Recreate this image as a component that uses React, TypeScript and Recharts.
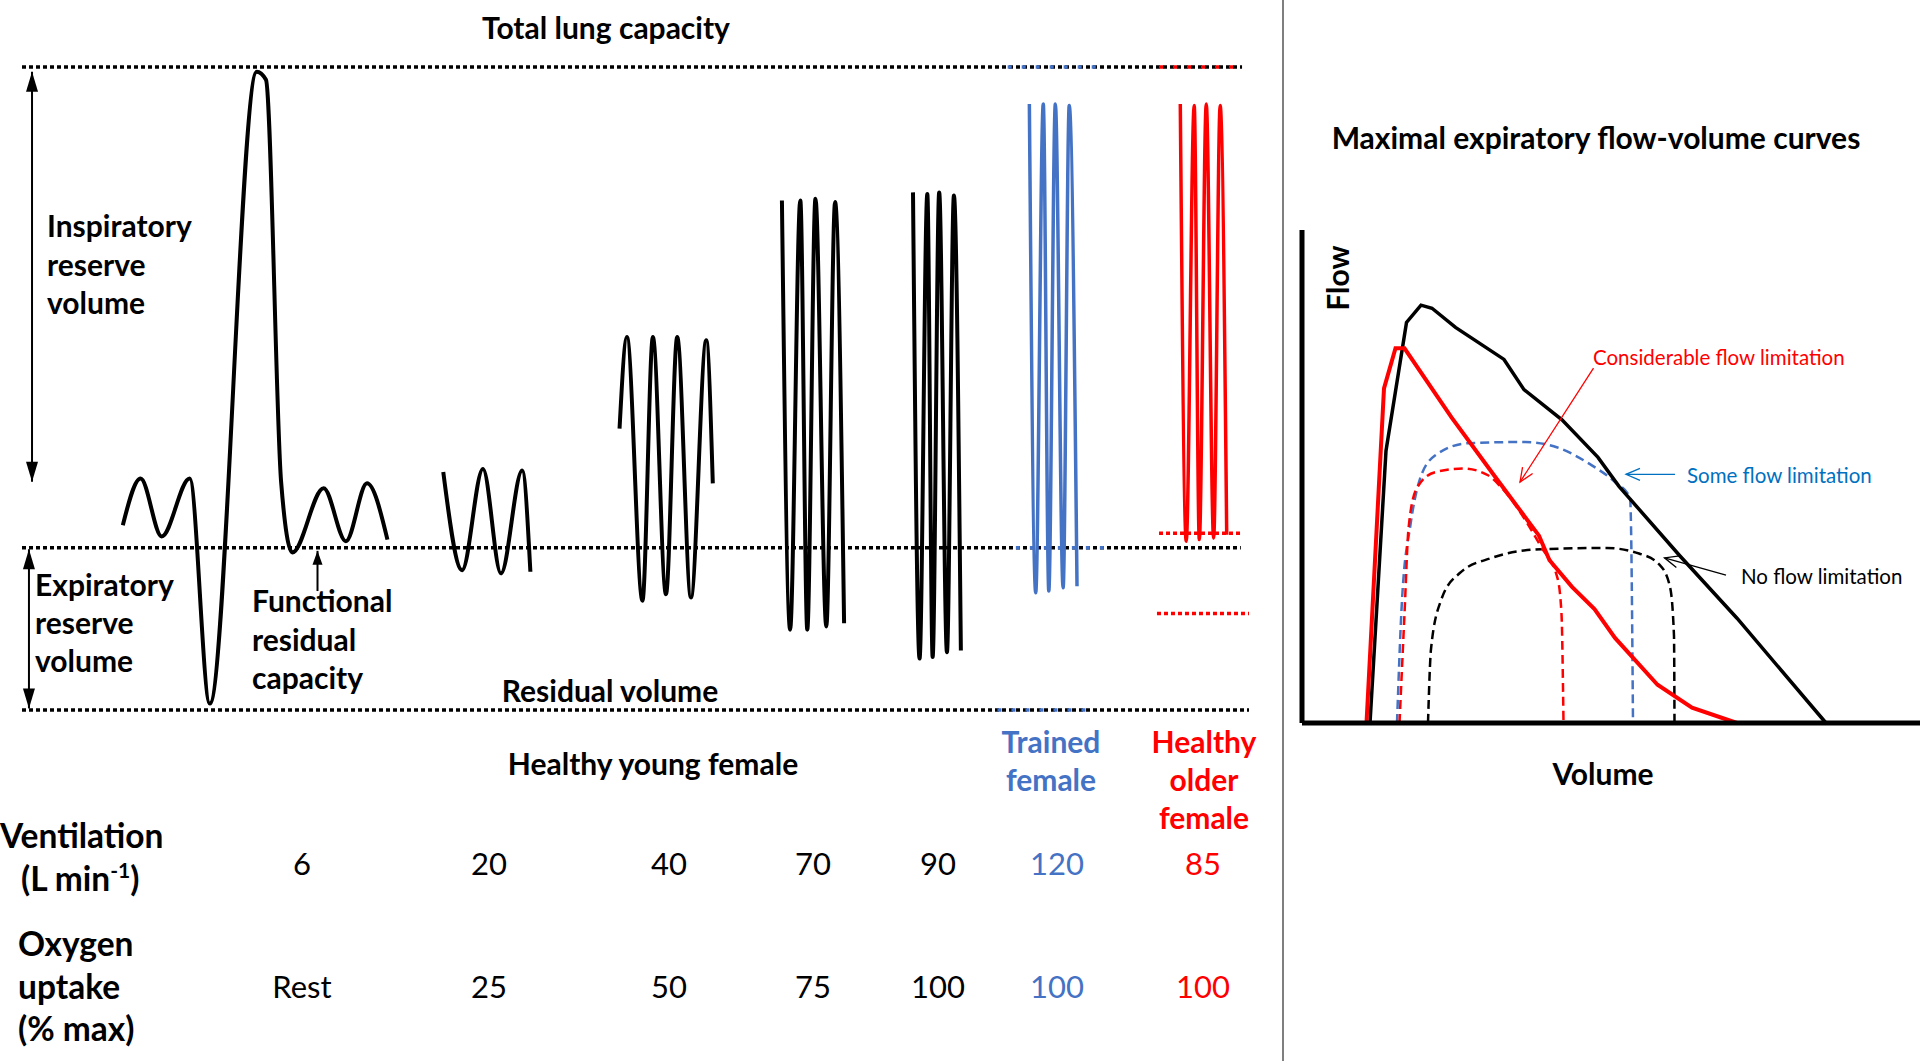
import React from "react";
import { LineChart, Line, XAxis, YAxis, ReferenceLine } from "recharts";

// ---- spirogram (time s, lung volume L) ----
const restBreaths = [
  [4.93, 2.15], [5.8, 2.44], [6.83, 2.08], [8.2, 2.44], [9.18, 1.04], [11.48, 4.97],
  [11.93, 4.92], [12.67, 2.42], [13.22, 1.98], [14.75, 2.38], [15.84, 2.05], [16.87, 2.41], [17.87, 2.06],
];
const breaths20 = [[20.6, 2.48], [21.52, 1.87], [22.54, 2.5], [23.42, 1.85], [24.46, 2.49], [24.86, 1.86]];
const breaths40 = [
  [29.22, 2.75], [29.58, 3.32], [30.34, 1.68], [30.85, 3.32], [31.49, 1.72],
  [32.04, 3.32], [32.71, 1.7], [33.46, 3.3], [33.78, 2.41],
];
const breaths70 = [[37.16, 4.17], [37.56, 1.5], [38.06, 4.17], [38.4, 1.5], [38.8, 4.18], [39.33, 1.52], [39.76, 4.16], [40.2, 1.54]];
const breaths90 = [[43.57, 4.22], [43.89, 1.32], [44.27, 4.21], [44.53, 1.33], [44.85, 4.22], [45.23, 1.36], [45.57, 4.2], [45.91, 1.37]];
const trainedBreaths = [[49.26, 4.77], [49.57, 1.73], [49.94, 4.77], [50.21, 1.74], [50.53, 4.77], [50.91, 1.76], [51.21, 4.76], [51.59, 1.77]];
const olderBreaths = [[56.64, 4.77], [56.93, 2.05], [57.32, 4.76], [57.57, 2.06], [57.91, 4.77], [58.27, 2.07], [58.59, 4.76], [58.91, 2.09]];

const TLC = 5.0;
const FRC = 2.01;
const RV = 1.0;
const olderFRC = 2.1;
const olderRV = 1.6;

// table under the spirogram
const ventilation = ["6", "20", "40", "70", "90", "120", "85"];
const oxygenUptake = ["Rest", "25", "50", "75", "100", "100", "100"];

// ---- flow-volume curves (volume L, flow L/s) ----
const maximalCurve = [
  [0.68, 0], [0.84, 4.42], [1.045, 6.5], [1.19, 6.78], [1.3, 6.73], [1.535, 6.42], [2.02, 5.9],
  [2.22, 5.41], [2.6, 4.92], [2.96, 4.31], [3.17, 3.84], [3.78, 2.71], [4.35, 1.7], [5.24, 0],
];
const olderMaximal = [
  [0.645, 0], [0.82, 5.43], [0.935, 6.08], [1.025, 6.08], [1.495, 4.96], [1.92, 4.02], [2.37, 3.04],
  [2.475, 2.64], [2.7, 2.21], [2.925, 1.85], [3.13, 1.38], [3.555, 0.62], [3.9, 0.25], [4.35, 0],
];
const trainedTidal = [
  [0.95, 0], [1.0, 1.99], [1.085, 3.22], [1.17, 3.91], [1.33, 4.34], [1.66, 4.54], [2.23, 4.56],
  [2.555, 4.47], [2.88, 4.2], [3.13, 3.91], [3.28, 3.66], [3.29, 3.22], [3.31, 0],
];
const olderTidal = [
  [0.975, 0], [1.025, 1.77], [1.065, 3.15], [1.145, 3.8], [1.33, 4.07], [1.615, 4.13], [1.86, 4.02],
  [2.005, 3.8], [2.39, 2.86], [2.555, 2.35], [2.595, 1.77], [2.615, 0],
];
const youngTidal = [
  [1.26, 0], [1.29, 1.2], [1.39, 1.99], [1.575, 2.43], [1.9, 2.68], [2.39, 2.82], [3.045, 2.84],
  [3.37, 2.75], [3.575, 2.57], [3.68, 2.21], [3.72, 1.41], [3.725, 0],
];

const spiro = (a: number[][]) => a.map(([t, v]) => ({ t, v }));
const fv = (a: number[][]) => a.map(([vol, flow]) => ({ vol, flow }));

const FONT = "Lato, 'Open Sans', 'DejaVu Sans', sans-serif";
const BLUE = "#4472C4";
const RED = "#FF0000";
const DOT = "4 3";

const colX = [302, 489, 669, 813, 938, 1057, 1203];
const colColor = ["#000", "#000", "#000", "#000", "#000", BLUE, RED];

const arrow = (o: { start?: boolean; end?: boolean; open?: boolean; len: number; half: number; w: number; color: string }) =>
  (p: any) => {
    const { x1, y1, x2, y2 } = p;
    const head = (tx: number, ty: number, fx: number, fy: number) => {
      const dx = tx - fx, dy = ty - fy;
      const d = Math.hypot(dx, dy) || 1;
      const ux = dx / d, uy = dy / d;
      const bx = tx - ux * o.len, by = ty - uy * o.len;
      const pts = `${bx - uy * o.half},${by + ux * o.half} ${tx},${ty} ${bx + uy * o.half},${by - ux * o.half}`;
      return o.open
        ? <polyline points={pts} fill="none" stroke={o.color} strokeWidth={o.w} />
        : <polygon points={pts} fill={o.color} />;
    };
    return (
      <g>
        <line x1={x1} y1={y1} x2={x2} y2={y2} stroke={o.color} strokeWidth={o.w} />
        {o.start && head(x1, y1, x2, y2)}
        {o.end && head(x2, y2, x1, y1)}
      </g>
    );
  };

const bold = { fontFamily: FONT, fontWeight: 700, fontSize: 30 };
const rowHead = { fontFamily: FONT, fontWeight: 700, fontSize: 33.5 };
const reg = { fontFamily: FONT, fontWeight: 400, fontSize: 31 };
const note = { fontFamily: FONT, fontWeight: 400, fontSize: 20.5 };

export default function App() {
  const hline = (y: number, x0: number, x1: number, color: string, dash = DOT) => (
    <ReferenceLine segment={[{ x: x0, y }, { x: x1, y }]} stroke={color} strokeWidth={3.5} strokeDasharray={dash} />
  );

  return (
    <div style={{ position: "absolute", left: 0, top: 0, width: 1920, height: 1061, background: "#fff" }}>
      <div style={{ position: "absolute", left: 0, top: 0 }}>
        <LineChart width={1283} height={1061} margin={{ top: 67, right: 34, bottom: 351, left: 22 }}>
          <XAxis type="number" dataKey="t" domain={[0, 60]} hide />
          <YAxis type="number" dataKey="v" domain={[1, 5]} hide />

          {hline(TLC, 0, 59.66, "#000")}
          {hline(FRC, 0, 59.6, "#000")}
          {hline(RV, 0, 60, "#000")}
          {hline(TLC, 48.2, 52.9, BLUE, "4 10")}
          {hline(FRC, 48.6, 53.2, BLUE, "4 10")}
          {hline(RV, 47.7, 52.1, BLUE, "4 10")}
          {hline(TLC, 55.6, 59.66, RED, "4 10")}
          {hline(olderFRC, 55.6, 59.66, RED)}
          {hline(olderRV, 55.5, 60, RED)}

          <ReferenceLine
            segment={[{ x: 0.49, y: 4.97 }, { x: 0.49, y: 2.42 }]}
            shape={arrow({ start: true, end: true, len: 20, half: 6, w: 2, color: "#000" })}
          />
          <ReferenceLine
            segment={[{ x: 0.34, y: 2.0 }, { x: 0.34, y: 1.01 }]}
            shape={arrow({ start: true, end: true, len: 20, half: 6, w: 2, color: "#000" })}
          />
          <ReferenceLine
            segment={[{ x: 14.45, y: 1.74 }, { x: 14.45, y: 1.99 }]}
            shape={arrow({ end: true, len: 14, half: 5, w: 2, color: "#000" })}
          />

          <Line data={spiro(restBreaths)} dataKey="v" type="monotone" stroke="#000" strokeWidth={4} dot={false} isAnimationActive={false} />
          <Line data={spiro(breaths20)} dataKey="v" type="monotone" stroke="#000" strokeWidth={4} dot={false} isAnimationActive={false} />
          <Line data={spiro(breaths40)} dataKey="v" type="monotone" stroke="#000" strokeWidth={4} dot={false} isAnimationActive={false} />
          <Line data={spiro(breaths70)} dataKey="v" type="monotone" stroke="#000" strokeWidth={4} dot={false} isAnimationActive={false} />
          <Line data={spiro(breaths90)} dataKey="v" type="monotone" stroke="#000" strokeWidth={4} dot={false} isAnimationActive={false} />
          <Line data={spiro(trainedBreaths)} dataKey="v" type="monotone" stroke={BLUE} strokeWidth={3.5} dot={false} isAnimationActive={false} />
          <Line data={spiro(olderBreaths)} dataKey="v" type="monotone" stroke={RED} strokeWidth={3.5} dot={false} isAnimationActive={false} />
        </LineChart>
      </div>

      <div style={{ position: "absolute", left: 1283, top: 0 }}>
        <LineChart width={637} height={1061} margin={{ top: 230, right: 0, bottom: 308, left: 0 }}>
          <XAxis type="number" dataKey="vol" domain={[0, 6.18]} tick={false} tickLine={false} height={30}
            axisLine={{ stroke: "#000", strokeWidth: 5 }} />
          <YAxis type="number" dataKey="flow" domain={[0, 8]} tick={false} tickLine={false} width={19}
            axisLine={{ stroke: "#000", strokeWidth: 5 }} />

          <Line data={fv(youngTidal)} dataKey="flow" type="monotone" stroke="#000" strokeWidth={2.5} strokeDasharray="9 5" dot={false} isAnimationActive={false} />
          <Line data={fv(trainedTidal)} dataKey="flow" type="monotone" stroke={BLUE} strokeWidth={2.5} strokeDasharray="9 5" dot={false} isAnimationActive={false} />
          <Line data={fv(olderTidal)} dataKey="flow" type="monotone" stroke={RED} strokeWidth={2.5} strokeDasharray="9 5" dot={false} isAnimationActive={false} />
          <Line data={fv(maximalCurve)} dataKey="flow" type="linear" stroke="#000" strokeWidth={3.5} dot={false} isAnimationActive={false} />
          <Line data={fv(olderMaximal)} dataKey="flow" type="linear" stroke={RED} strokeWidth={4} dot={false} isAnimationActive={false} />

          <ReferenceLine segment={[{ x: 2.915, y: 5.76 }, { x: 2.18, y: 3.91 }]}
            shape={arrow({ end: true, open: true, len: 14, half: 6, w: 1.3, color: RED })} />
          <ReferenceLine segment={[{ x: 3.73, y: 4.035 }, { x: 3.24, y: 4.035 }]}
            shape={arrow({ end: true, open: true, len: 14, half: 6, w: 1.3, color: "#0070C0" })} />
          <ReferenceLine segment={[{ x: 4.24, y: 2.4 }, { x: 3.625, y: 2.68 }]}
            shape={arrow({ end: true, open: true, len: 14, half: 6, w: 1.3, color: "#000" })} />
        </LineChart>
      </div>

      <svg width={1920} height={1061} style={{ position: "absolute", left: 0, top: 0, pointerEvents: "none" }}>
        <line x1={1283} y1={0} x2={1283} y2={1061} stroke="#7f7f7f" strokeWidth={2} />

        <text x={606} y={39} textAnchor="middle" {...bold}>Total lung capacity</text>
        <text x={47} y={237} {...bold}>Inspiratory</text>
        <text x={47} y={276} {...bold}>reserve</text>
        <text x={47} y={314} {...bold}>volume</text>
        <text x={35} y={596} {...bold}>Expiratory</text>
        <text x={35} y={634} {...bold}>reserve</text>
        <text x={35} y={672} {...bold}>volume</text>
        <text x={252} y={612} {...bold}>Functional</text>
        <text x={252} y={651} {...bold}>residual</text>
        <text x={252} y={689} {...bold}>capacity</text>
        <text x={610} y={702} textAnchor="middle" {...bold}>Residual volume</text>
        <text x={653} y={775} textAnchor="middle" {...bold}>Healthy young female</text>
        <text x={1051} y={753} textAnchor="middle" {...bold} fill={BLUE}>Trained</text>
        <text x={1051} y={791} textAnchor="middle" {...bold} fill={BLUE}>female</text>
        <text x={1204} y={753} textAnchor="middle" {...bold} fill={RED}>Healthy</text>
        <text x={1204} y={791} textAnchor="middle" {...bold} fill={RED}>older</text>
        <text x={1204} y={829} textAnchor="middle" {...bold} fill={RED}>female</text>

        <text x={0} y={848} {...rowHead}>Ventilation</text>
        <text x={21} y={891} {...rowHead}>
          <tspan>(L min</tspan>
          <tspan dy={-13} fontSize={21}>-1</tspan>
          <tspan dy={13}>)</tspan>
        </text>
        <text x={18} y={956} {...rowHead}>Oxygen</text>
        <text x={18} y={999} {...rowHead}>uptake</text>
        <text x={18} y={1041} {...rowHead}>(% max)</text>

        {ventilation.map((s, i) => (
          <text key={"v" + i} x={colX[i]} y={875} textAnchor="middle" {...reg} fill={colColor[i]}>{s}</text>
        ))}
        {oxygenUptake.map((s, i) => (
          <text key={"o" + i} x={colX[i]} y={998} textAnchor="middle" {...reg} fill={colColor[i]}>{s}</text>
        ))}

        <text x={1596} y={149} textAnchor="middle" {...bold}>Maximal expiratory flow-volume curves</text>
        <text x={1349} y={278} textAnchor="middle" transform="rotate(-90 1349 278)" {...bold}>Flow</text>
        <text x={1603} y={785} textAnchor="middle" {...bold}>Volume</text>
        <text x={1593} y={365} {...note} fill={RED}>Considerable flow limitation</text>
        <text x={1687} y={483} {...note} fill="#0070C0">Some flow limitation</text>
        <text x={1741} y={584} {...note} fill="#000">No flow limitation</text>
      </svg>
    </div>
  );
}
